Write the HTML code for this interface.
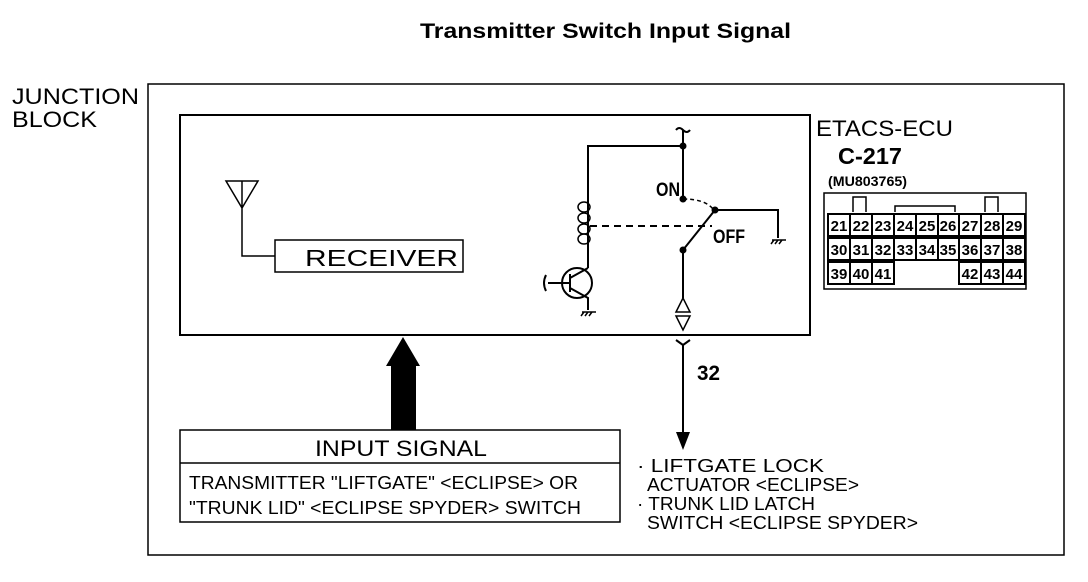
<!DOCTYPE html>
<html><head><style>
body{margin:0;background:#fff;}
svg{display:block;font-family:"Liberation Sans",sans-serif;}
</style></head><body>
<svg width="1088" height="582" viewBox="0 0 1088 582" xmlns="http://www.w3.org/2000/svg">
<rect width="1088" height="582" fill="#fff"/>
<text x="420" y="38" font-size="21" font-weight="bold" textLength="371" lengthAdjust="spacingAndGlyphs">Transmitter Switch Input Signal</text>
<text x="12" y="104" font-size="22" textLength="127" lengthAdjust="spacingAndGlyphs">JUNCTION</text>
<text x="12" y="127" font-size="22" textLength="85" lengthAdjust="spacingAndGlyphs">BLOCK</text>
<rect x="148" y="84" width="916" height="471" fill="none" stroke="#000" stroke-width="1.5"/>
<rect x="180" y="115" width="630" height="220" fill="none" stroke="#000" stroke-width="2"/>
<path d="M226 181 L258 181 L242 208 Z M242 181 V256 H275" fill="none" stroke="#000" stroke-width="1.5"/>
<rect x="275" y="240" width="188" height="32" fill="none" stroke="#000" stroke-width="1.5"/>
<text x="305" y="266" font-size="23" textLength="153" lengthAdjust="spacingAndGlyphs">RECEIVER</text>
<path d="M403 337 L420 366 L416 366 L416 430 L391 430 L391 366 L386 366 Z" fill="#000"/>
<rect x="180" y="430" width="440" height="92" fill="none" stroke="#000" stroke-width="1.5"/>
<line x1="180" y1="463" x2="620" y2="463" stroke="#000" stroke-width="1.5"/>
<text x="315" y="456" font-size="22" textLength="172" lengthAdjust="spacingAndGlyphs">INPUT SIGNAL</text>
<text x="189" y="489" font-size="18" textLength="389" lengthAdjust="spacingAndGlyphs">TRANSMITTER "LIFTGATE" &lt;ECLIPSE&gt; OR</text>
<text x="189" y="514" font-size="18" textLength="392" lengthAdjust="spacingAndGlyphs">"TRUNK LID" &lt;ECLIPSE SPYDER&gt; SWITCH</text>
<g stroke="#000" stroke-width="2" fill="none">
<path d="M676 130 q3 -4 7 0 q4 4 7 0"/>
<path d="M683 130 V199 M683 250 V298"/>
<path d="M683 146 H588 V200"/>
<path d="M588 200 V244"/>
<ellipse cx="584" cy="207" rx="6" ry="5" stroke-width="1.5"/>
<ellipse cx="584" cy="218" rx="6" ry="5" stroke-width="1.5"/>
<ellipse cx="584" cy="229" rx="6" ry="5" stroke-width="1.5"/>
<ellipse cx="584" cy="239" rx="6" ry="5" stroke-width="1.5"/>
<path d="M588 244 V268"/>
<path d="M683 250 L715 210 H778 V238"/>
<path d="M683 199 q22 0 30 10" stroke-dasharray="4 3" stroke-width="1.5"/>
<path d="M590 226 H712" stroke-dasharray="7 5"/>
<circle cx="577" cy="283" r="15"/>
<path d="M570 274 V292 M548 283 H570 M570 278 L588 268 M570 288 L588 298 V310"/>
<path d="M546 275 q-4 8 0 16"/>
<path d="M683 298 L676 312 H690 Z M676 316 H690 L683 330 Z" stroke-width="1.5"/>
<path d="M683 345 L676 340 M683 345 L690 340 M683 345 V432"/>
</g>
<path d="M676 432 H690 L683 450 Z" fill="#000"/>
<g stroke="#000" stroke-width="1.5">
<path d="M582 312 H596 M584 312 l-3 4 M588 312 l-3 4 M592 312 l-3 4"/>
<path d="M772 240 H786 M774 240 l-3 4 M778 240 l-3 4 M782 240 l-3 4"/>
</g>
<g fill="#000">
<circle cx="683" cy="146" r="3.5"/><circle cx="683" cy="199" r="3.5"/>
<circle cx="683" cy="250" r="3.5"/><circle cx="715" cy="210" r="3.5"/>
</g>
<text x="656" y="196" font-size="19" font-weight="bold" textLength="24" lengthAdjust="spacingAndGlyphs">ON</text>
<text x="713" y="243" font-size="19" font-weight="bold" textLength="32" lengthAdjust="spacingAndGlyphs">OFF</text>
<text x="697" y="380" font-size="21" font-weight="bold" textLength="23" lengthAdjust="spacingAndGlyphs">32</text>
<text x="637" y="472" font-size="18" textLength="187" lengthAdjust="spacingAndGlyphs">· LIFTGATE LOCK</text>
<text x="647" y="491" font-size="18" textLength="212" lengthAdjust="spacingAndGlyphs">ACTUATOR &lt;ECLIPSE&gt;</text>
<text x="637" y="510" font-size="18" textLength="178" lengthAdjust="spacingAndGlyphs">· TRUNK LID LATCH</text>
<text x="647" y="529" font-size="18" textLength="271" lengthAdjust="spacingAndGlyphs">SWITCH &lt;ECLIPSE SPYDER&gt;</text>
<text x="816" y="136" font-size="22" textLength="137" lengthAdjust="spacingAndGlyphs">ETACS-ECU</text>
<text x="838" y="164" font-size="23" font-weight="bold" textLength="64" lengthAdjust="spacingAndGlyphs">C-217</text>
<text x="828" y="186" font-size="14" font-weight="bold" textLength="79" lengthAdjust="spacingAndGlyphs">(MU803765)</text>
<g fill="none" stroke="#000" stroke-width="1.5">
<rect x="824" y="193" width="202" height="96"/>
<path d="M853 212 V197 H866 V212 M985 212 V197 H998 V212 M895 212 V206 H955 V212"/>
</g>
<g fill="none" stroke="#000" stroke-width="2">
<rect x="828" y="214" width="197" height="22"/>
<rect x="828" y="238" width="197" height="22"/>
<rect x="828" y="262" width="66" height="22"/>
<rect x="959" y="262" width="66" height="22"/>
<path d="M850 214 V284 M872 214 V284 M894 214 V260 M916 214 V260 M938 214 V260 M959 214 V284 M981 214 V284 M1003 214 V284"/>
</g>
<g font-size="15" font-weight="bold" text-anchor="middle">
<text x="839" y="231">21</text><text x="861" y="231">22</text><text x="883" y="231">23</text><text x="905" y="231">24</text><text x="927" y="231">25</text><text x="948" y="231">26</text><text x="970" y="231">27</text><text x="992" y="231">28</text><text x="1014" y="231">29</text>
<text x="839" y="255">30</text><text x="861" y="255">31</text><text x="883" y="255">32</text><text x="905" y="255">33</text><text x="927" y="255">34</text><text x="948" y="255">35</text><text x="970" y="255">36</text><text x="992" y="255">37</text><text x="1014" y="255">38</text>
<text x="839" y="279">39</text><text x="861" y="279">40</text><text x="883" y="279">41</text><text x="970" y="279">42</text><text x="992" y="279">43</text><text x="1014" y="279">44</text>
</g>
</svg>
</body></html>
